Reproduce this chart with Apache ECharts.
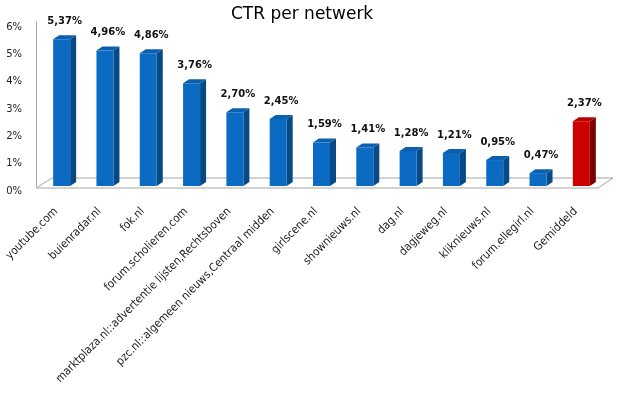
<!DOCTYPE html>
<html>
<head>
<meta charset="utf-8">
<script src="https://cdn.jsdelivr.net/npm/echarts@6/dist/echarts.min.js"></script>
<style>
html, body { margin:0; padding:0; background:#fff; }
#main { width:621px; height:397px; }
</style>
</head>
<body>
<div id="main"></div>
<script>
// CTR per network, values in percent
var networks = ['youtube.com', 'buienradar.nl', 'fok.nl', 'forum.scholieren.com',
	'marktplaza.nl::advertentie lijsten,Rechtsboven', 'pzc.nl::algemeen nieuws,Centraal midden',
	'girlscene.nl', 'shownieuws.nl', 'dag.nl', 'dagjeweg.nl', 'kliknieuws.nl',
	'forum.ellegirl.nl', 'Gemiddeld'];
var ctrValues = [5.37, 4.96, 4.86, 3.76, 2.70, 2.45, 1.59, 1.41, 1.28, 1.21, 0.95, 0.47, 2.37];
var yTicks = [0, 1, 2, 3, 4, 5, 6];

var FONT = 'DejaVu Sans';
var NARROW = "'DejaVu Sans Condensed', 'Liberation Sans'";

function fmtPct(v){
	return v.toFixed(2).replace('.', ',') + '%';
}

// colours per face: front, side, top
var blueFaces = ['#0B6BC2', '#074A86', '#0A5FAE'];
var redFaces = ['#CC0000', '#7A0000', '#B80000'];

function renderBar(params, api){
	var idx = api.value(0);
	var val = api.value(1);
	var top = api.coord([idx, val]);
	var base = api.coord([idx, 0]);
	var w = 17, dx = 6, dy = 4;
	var x0 = top[0] - w / 2;
	var x1 = x0 + w;
	var yt = top[1], yb = base[1];
	var faces = idx === networks.length - 1 ? redFaces : blueFaces;
	return {
		type: 'group',
		children: [
			{ type: 'polygon', shape: { points: [[x1, yt], [x1 + dx, yt - dy], [x1 + dx, yb - dy], [x1, yb]] },
			  style: { fill: faces[1] } },
			{ type: 'polygon', shape: { points: [[x0, yt], [x0 + dx, yt - dy], [x1 + dx, yt - dy], [x1, yt]] },
			  style: { fill: faces[2] } },
			{ type: 'rect', shape: { x: x0, y: yt, width: w, height: yb - yt },
			  style: { fill: faces[0] } },
			{ type: 'text', style: { text: fmtPct(val), x: x0 + (w + dx) / 2, y: yt - dy - 9,
			  align: 'center', verticalAlign: 'bottom', fill: '#111',
			  font: 'bold 10px ' + FONT } }
		]
	};
}

// floor under the bars (3d look)
function renderFloor(params, api){
	var cs = params.coordSys;
	var yb = cs.y + cs.height + 2;
	return {
		type: 'polygon',
		shape: { points: [[cs.x - 4, yb], [cs.x + cs.width - 5, yb], [cs.x + cs.width + 10, yb - 10], [cs.x + 12, yb - 10]] },
		style: { fill: '#fff', stroke: '#a6a6a6', lineWidth: 1 }
	};
}

var chart = echarts.init(document.getElementById('main'));

var barData = [];
for (var i = 0; i < ctrValues.length; i++){
	barData.push([i, ctrValues[i]]);
}

var option = {
	animation: false,
	backgroundColor: '#fff',
	title: {
		text: 'CTR per netwerk',
		left: 226,
		top: 1,
		textStyle: { fontFamily: FONT, fontSize: 17, fontWeight: 'normal', color: '#000' }
	},
	grid: { left: 40, right: 18, top: 22, bottom: 211, outerBoundsMode: 'none', containLabel: false },
	xAxis: {
		type: 'category',
		data: networks,
		axisLine: { show: false },
		axisTick: { show: false },
		axisLabel: {
			interval: 0,
			rotate: 45,
			margin: 18,
			padding: [0, 8, 0, 0],
			fontFamily: NARROW,
			fontSize: 11.5,
			color: '#222'
		}
	},
	yAxis: {
		type: 'value',
		min: 0,
		max: 6,
		interval: 1,
		offset: 4,
		axisLine: { show: true, lineStyle: { color: '#a6a6a6' } },
		axisTick: { show: false },
		splitLine: { show: false },
		axisLabel: {
			margin: 14,
			fontFamily: FONT,
			fontSize: 10,
			color: '#222',
			verticalAlign: 'top',
			formatter: function(v){ return yTicks.indexOf(v) >= 0 ? v + '%' : ''; }
		}
	},
	series: [
		{
			type: 'custom',
			name: 'floor',
			renderItem: renderFloor,
			data: [[0, 0]],
			z: 1,
			silent: true
		},
		{
			type: 'custom',
			name: 'CTR',
			renderItem: renderBar,
			encode: { x: 0, y: 1 },
			data: barData,
			z: 2
		}
	]
};

chart.setOption(option);
</script>
</body>
</html>
